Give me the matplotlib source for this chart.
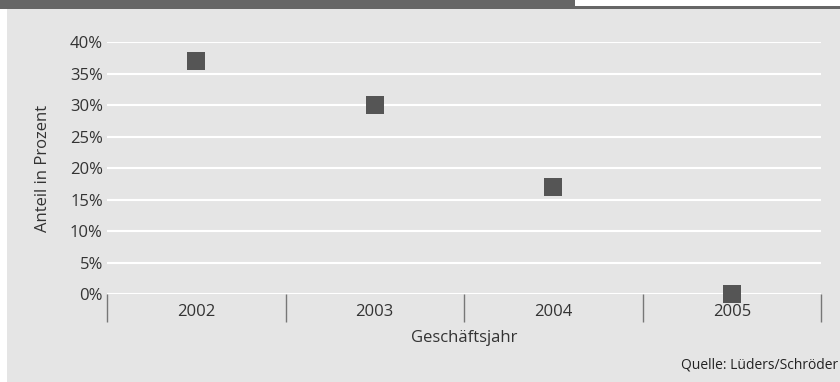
import matplotlib.pyplot as plt
from matplotlib.patches import Rectangle

years = ["2002", "2003", "2004", "2005"]
share = [37, 30, 17, 0]  # Anteil in Prozent
y_ticks = [0, 5, 10, 15, 20, 25, 30, 35, 40]

plt.rcParams['font.family'] = ['Open Sans', 'DejaVu Sans']

fig = plt.figure(figsize=(8.4, 3.82), dpi=100)
fig.patch.set_facecolor('white')

# grey panel and the dark header strip, kept behind the axes
fig.patches.append(Rectangle((7 / 840, 0), 1, 373 / 382, transform=fig.transFigure,
                             facecolor='#e5e5e5', edgecolor='none', zorder=-3))
fig.patches.append(Rectangle((0, 373 / 382), 575 / 840, 9 / 382, transform=fig.transFigure,
                             facecolor='#666666', edgecolor='none', zorder=-2))
fig.patches.append(Rectangle((575 / 840, 373 / 382), 1, 3 / 382, transform=fig.transFigure,
                             facecolor='#666666', edgecolor='none', zorder=-2))

ax = fig.add_axes([107 / 840, 88 / 382, 714 / 840, 251.7 / 382])
ax.set_facecolor('none')

x = range(len(years))
ax.scatter(x, share, marker='s', s=180, color='#555555', zorder=3, clip_on=False, linewidths=0)

ax.set_xlim(-0.5, len(years) - 0.5)
ax.set_ylim(0, 40)
ax.set_yticks(y_ticks)
ax.set_yticklabels([f"{v}%" for v in y_ticks])
ax.yaxis.grid(True, color='white', linewidth=1.5)
ax.set_axisbelow(True)

ax.set_xticks(x)
ax.set_xticklabels(years)
ax.set_xticks([i - 0.5 for i in range(len(years) + 1)], minor=True)
ax.tick_params(axis='x', which='major', length=0, pad=7, labelsize=12, colors='#333333')
ax.tick_params(axis='x', which='minor', length=20, width=1, color='#777777', direction='out')
ax.tick_params(axis='y', length=0, pad=3, labelsize=12, colors='#333333')

for s in ax.spines.values():
    s.set_visible(False)

ax.set_xlabel("Geschäftsjahr", fontsize=12, color='#333333')
ax.set_ylabel("Anteil in Prozent", fontsize=12, color='#333333')
ax.xaxis.set_label_coords(0.5, -44 / 251.7)
ax.yaxis.set_label_coords(-64 / 714, 0.5)
ax.xaxis.label.set_va('center')
ax.yaxis.label.set_va('center')

fig.text(838 / 840, 17 / 382, "Quelle: Lüders/Schröder", ha='right', va='center',
         fontsize=10, color='#222222')

fig.savefig("out.png", dpi=100, facecolor=fig.get_facecolor())
